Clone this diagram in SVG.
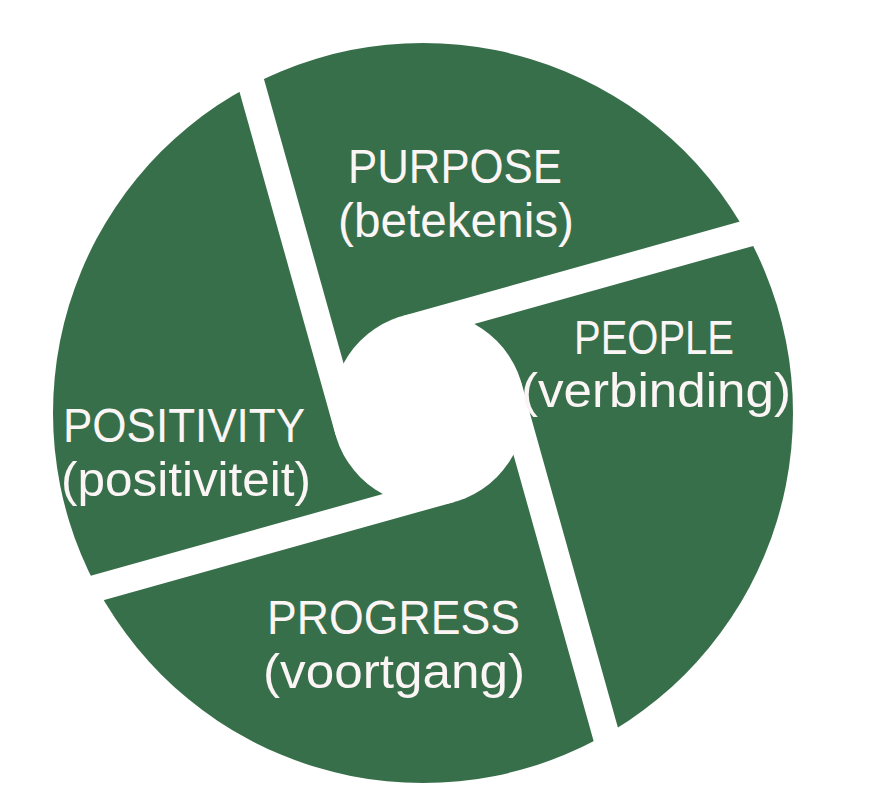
<svg xmlns="http://www.w3.org/2000/svg" width="872" height="800" viewBox="0 0 872 800">
  <style>
    .seg { fill: #376F4A; }
    .lbl { fill: #FBF5F5; font-family: "Liberation Sans", Arial, sans-serif; font-size: 48px; }
  </style>
  <defs>
    <mask id="ring" maskUnits="userSpaceOnUse" x="0" y="0" width="872" height="800">
      <circle cx="423" cy="413" r="370" fill="#fff"/>
      <circle cx="428.5" cy="409" r="96.5" fill="#000"/>
      <polygon points="402.48,316.07 835.83,194.75 843.11,220.75 409.76,342.07" fill="#000"/>
      <polygon points="335.57,435.02 214.25,1.67 240.25,-5.61 361.57,427.74" fill="#000"/>
      <polygon points="454.52,501.93 21.17,623.25 13.89,597.25 447.24,475.93" fill="#000"/>
      <polygon points="521.43,382.98 642.75,816.33 616.75,823.61 495.43,390.26" fill="#000"/>
    </mask>
  </defs>
  <rect width="872" height="800" fill="#fff"/>
  <g id="connectors"></g>
  <g id="purpose">
    <polygon class="seg" mask="url(#ring)" points="348.57,431.38 227.25,-1.97 900,-60 839.47,207.75 406.12,329.07 428.5,409"/>
    <text class="lbl" x="348" y="183" textLength="214" lengthAdjust="spacingAndGlyphs">PURPOSE</text>
    <text class="lbl" x="338" y="237" textLength="236" lengthAdjust="spacingAndGlyphs">(betekenis)</text>
  </g>
  <g id="people">
    <polygon class="seg" mask="url(#ring)" points="406.12,329.07 839.47,207.75 900,900 629.75,819.97 508.43,386.62 428.5,409"/>
    <text class="lbl" x="574" y="354" textLength="160" lengthAdjust="spacingAndGlyphs">PEOPLE</text>
    <text class="lbl" x="521" y="407" textLength="270" lengthAdjust="spacingAndGlyphs">(verbinding)</text>
  </g>
  <g id="progress">
    <polygon class="seg" mask="url(#ring)" points="508.43,386.62 629.75,819.97 -50,900 17.53,610.25 450.88,488.93 428.5,409"/>
    <text class="lbl" x="267" y="634" textLength="253" lengthAdjust="spacingAndGlyphs">PROGRESS</text>
    <text class="lbl" x="263" y="688" textLength="262" lengthAdjust="spacingAndGlyphs">(voortgang)</text>
  </g>
  <g id="positivity">
    <polygon class="seg" mask="url(#ring)" points="450.88,488.93 17.53,610.25 -50,-50 227.25,-1.97 348.57,431.38 428.5,409"/>
    <text class="lbl" x="63" y="442" textLength="242" lengthAdjust="spacingAndGlyphs">POSITIVITY</text>
    <text class="lbl" x="61" y="496" textLength="250" lengthAdjust="spacingAndGlyphs">(positiviteit)</text>
  </g>
</svg>
